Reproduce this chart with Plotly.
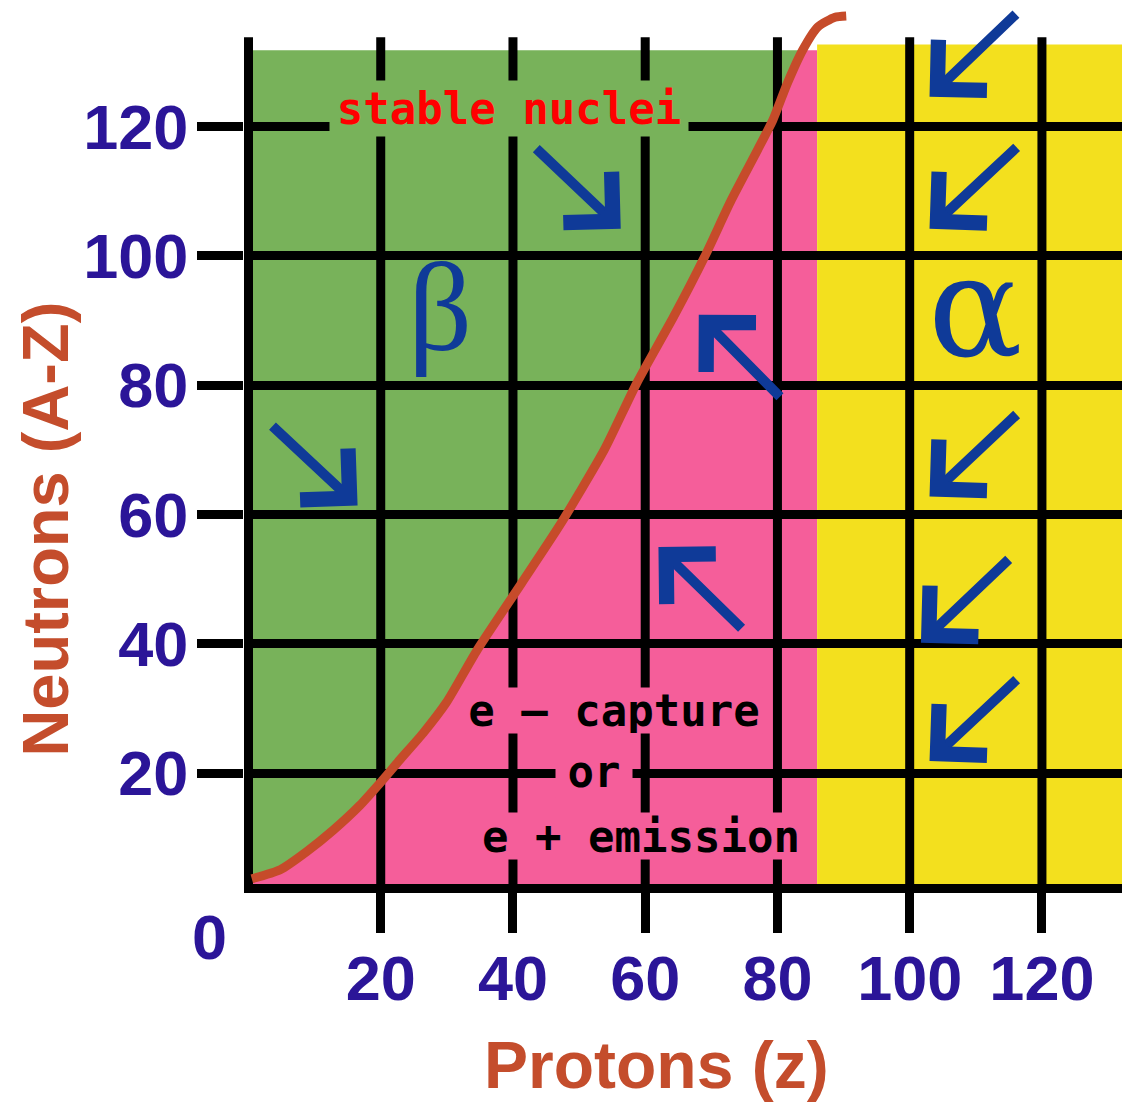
import numpy as np
import plotly.graph_objects as go

# Vallée de stabilité : N (neutrons) en fonction de Z (protons)
CURVE_Z = [0.5, 4.8, 8.8, 12.8, 16.9, 19.9, 22.9, 26.4, 29.9, 34.6, 41.3, 47.1,
           53.8, 58.7, 64.3, 69.0, 73.0, 77.0, 79.3, 81.5, 83.8, 86.1, 88.7, 90.4]
CURVE_N = [3.7, 5.1, 7.9, 11.2, 15.1, 18.5, 22.1, 26.2, 30.9, 39.1, 49.4, 58.4,
           70.0, 80.3, 90.6, 99.9, 108.6, 116.4, 121.0, 126.7, 131.8, 135.4, 136.9, 137.1]

TICKS = [20, 40, 60, 80, 100, 120]
Z_ALPHA = 86.0        # au-delà : désintégration alpha
N_TOP_BETA = 131.8    # haut des zones beta / capture
N_TOP_ALPHA = 132.7   # haut de la zone alpha
N_GRID_TOP = 133.8    # haut des lignes verticales

# flèches : pointe (z, n) -> queue (z, n)
ARROW_TIP_Z = [56.3, 16.5, 68.1, 62.0, 103.0, 103.0, 103.0, 101.7, 103.0]
ARROW_TIP_N = [104.2, 61.4, 90.9, 55.0, 124.6, 104.2, 62.8, 40.2, 21.9]
ARROW_TAIL_Z = [43.3, 3.4, 80.6, 74.8, 116.3, 116.4, 116.4, 115.2, 116.4]
ARROW_TAIL_N = [116.8, 73.9, 78.0, 42.2, 137.6, 117.0, 75.7, 53.3, 34.7]

X_RANGE = [-0.68, 133.32]
Y_RANGE = [2.89, 138.33]

GREEN, PINK, YELLOW = "#78B25A", "#F55E9A", "#F3E01E"
BLUE, CURVE, TICK, TITLE = "#0F3A98", "#C64B2A", "#2B1598", "#C44D2C"
SANS = "Liberation Sans, Arial, sans-serif"
MONO = "DejaVu Sans Mono, monospace"
SERIF = "Liberation Serif, Times New Roman, serif"


def path(points):
    return "M " + " L ".join(f"{a:.3f},{b:.3f}" for a, b in points) + " Z"


z = np.array(CURVE_Z)
n = np.array(CURVE_N)
inside = n < N_TOP_BETA
z_top = float(np.interp(N_TOP_BETA, n, z))       # la courbe sort de la zone colorée
x0, y0 = X_RANGE[0], Y_RANGE[0]
curve_pts = list(zip(z[inside], n[inside]))

green = [(x0, n[0])] + curve_pts + [(z_top, N_TOP_BETA), (x0, N_TOP_BETA)]
pink = ([(x0, y0), (x0, n[0])] + curve_pts
        + [(z_top, N_TOP_BETA), (Z_ALPHA, N_TOP_BETA), (Z_ALPHA, y0)])

fig = go.Figure()

fig.add_shape(type="path", path=path(green), fillcolor=GREEN, line_width=0, layer="below")
fig.add_shape(type="path", path=path(pink), fillcolor=PINK, line_width=0, layer="below")
fig.add_shape(type="rect", x0=Z_ALPHA, x1=X_RANGE[1], y0=y0, y1=N_TOP_ALPHA,
              fillcolor=YELLOW, line_width=0, layer="below")
# lignes verticales de la grille (s'arrêtent au-dessus des zones colorées)
for v in [0] + TICKS:
    fig.add_shape(type="line", x0=v, x1=v, y0=y0, y1=N_GRID_TOP,
                  line=dict(color="black", width=9), layer="below")

fig.add_trace(go.Scatter(
    x=CURVE_Z, y=CURVE_N, mode="lines",
    line=dict(color=CURVE, width=9, shape="spline", smoothing=0.6),
    hoverinfo="skip", showlegend=False,
))

# flèches bleues
for tz, tn, az, an in zip(ARROW_TIP_Z, ARROW_TIP_N, ARROW_TAIL_Z, ARROW_TAIL_N):
    fig.add_annotation(x=tz, y=tn, ax=az, ay=an, axref="x", ayref="y", text="",
                       showarrow=True, arrowhead=4, arrowsize=1.35, arrowwidth=10,
                       arrowcolor=BLUE, standoff=0)

# étiquettes dans le graphe (fond coloré qui masque la grille)
labels = [
    ("stable nuclei", 39.4, 122.8, 358, 55, GREEN, "#FF0000"),
    ("e – capture", 55.3, 29.7, 296, 45, PINK, "black"),
    ("or", 52.2, 20.3, 76, 52, PINK, "black"),
    ("e + emission", 59.3, 10.3, 342, 46, PINK, "black"),
]
for txt, x, y, w, h, bg, col in labels:
    fig.add_annotation(x=x, y=y, text=txt, showarrow=False, width=w, height=h,
                       bgcolor=bg, borderpad=0, xanchor="center", yanchor="middle",
                       font=dict(family=MONO, size=44, color=col, weight="bold"))

fig.add_annotation(x=28.9, y=92.0, text="β", showarrow=False,
                   xanchor="center", yanchor="middle",
                   font=dict(family=SERIF, size=126, color=BLUE))
fig.add_annotation(x=110.0, y=92.1, text="α", showarrow=False,
                   xanchor="center", yanchor="middle",
                   font=dict(family="DejaVu Serif, serif", size=140, color=BLUE))

# titres des axes et origine
fig.add_annotation(xref="paper", yref="paper", x=0.4656, y=-0.2066, text="Protons (z)",
                   xanchor="center", yanchor="middle", showarrow=False,
                   font=dict(family=SANS, size=66, color=TITLE, weight="bold"))
fig.add_annotation(xref="paper", yref="paper", x=-0.2245, y=0.4047, text="Neutrons (A-Z)",
                   textangle=-90, xanchor="center", yanchor="middle", showarrow=False,
                   font=dict(family=SANS, size=65, color=TITLE, weight="bold"))
fig.add_annotation(xref="paper", yref="paper", x=-0.0384, y=-0.0605, text="0",
                   xanchor="center", yanchor="middle", showarrow=False,
                   font=dict(family=SANS, size=63, color=TICK, weight="bold"))

tickfont = dict(family=SANS, size=63, color=TICK, weight="bold")
fig.update_xaxes(range=X_RANGE, tickvals=TICKS, ticks="outside", ticklen=40, tickwidth=9,
                 tickcolor="black", showline=True, linewidth=9, linecolor="black",
                 showgrid=False, zeroline=False, tickfont=tickfont, ticklabelstandoff=-9)
fig.update_yaxes(range=Y_RANGE, tickvals=TICKS, ticks="outside", ticklen=46, tickwidth=9,
                 tickcolor="black", showline=False, showgrid=True, gridcolor="black",
                 gridwidth=9, zeroline=False, tickfont=tickfont, ticklabelstandoff=-4)

# la page ajoute une marge de 8 px autour du graphique
fig.update_layout(
    width=1130, height=1102, autosize=False,
    margin=dict(l=236, r=8, t=0, b=226),
    paper_bgcolor="white", plot_bgcolor="white",
    showlegend=False,
)

fig.write_html("out.html", config={"displayModeBar": False})
